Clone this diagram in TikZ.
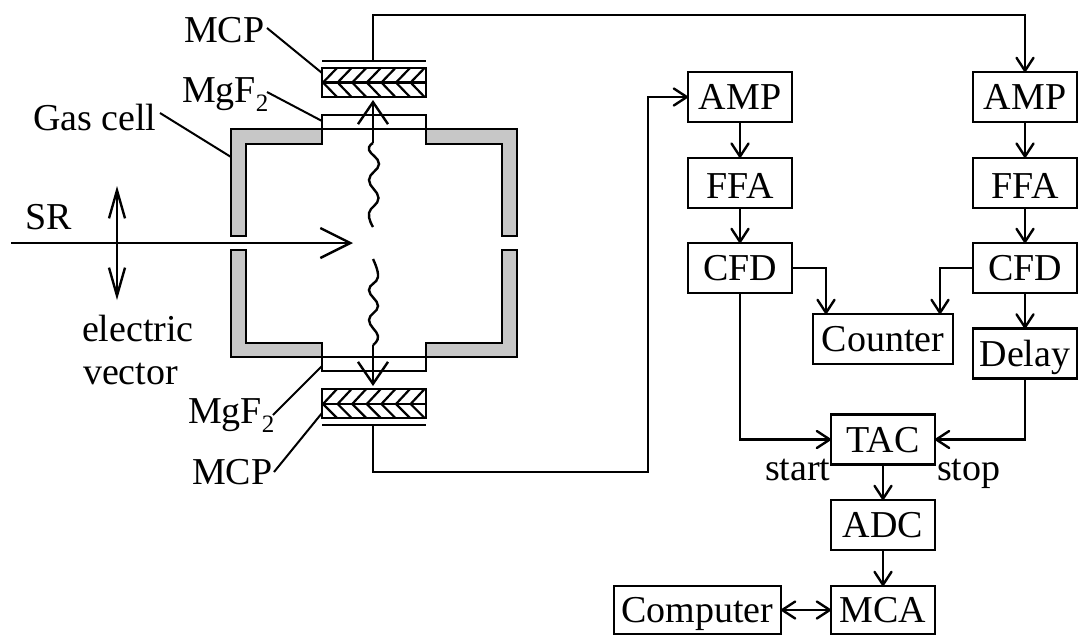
\documentclass[tikz,border=0pt]{standalone}
\usepackage{fontspec}
\setmainfont{Liberation Serif}
\usetikzlibrary{arrows.meta,positioning}
\tikzset{
  x=1pt,y=-1pt,
  stdtext/.style={font=\fontsize{38}{40}\selectfont,inner sep=0pt,outer sep=0pt},
  lbl/.style={stdtext,anchor=base west},
  box/.style={stdtext,draw=black,fill=white,minimum height=50pt,text height=25pt,text depth=0pt,anchor=center},
  wide/.style={box,minimum width=104pt},
  conn/.style={draw=black,-{Straight Barb[length=13pt,width=17pt,round]}},
  dconn/.style={draw=black,{Straight Barb[length=13pt,width=17pt,round]}-{Straight Barb[length=13pt,width=17pt,round]}},
  bigbeam/.style={draw=black,-{Straight Barb[length=30pt,width=30pt]}},
  vecarrow/.style={draw=black,{Straight Barb[length=28pt,width=16pt]}-{Straight Barb[length=28pt,width=16pt]}},
  photon/.style={draw=black,-{Straight Barb[length=22pt,width=30pt]}},
  wall/.style={draw=black,fill=black!22},
  thin leader/.style={draw=black,line width=2pt},
  mcpbox/.style={draw=black,fill=white},
}
\begin{document}
\begin{tikzpicture}[line width=2.4pt]
\useasboundingbox (0,0) rectangle (1078,635);
% gas cell walls
\draw[wall] (231,236)--(231,129)--(322,129)--(322,144)--(246,144)--(246,236)--cycle;
\draw[wall] (231,250)--(231,357)--(322,357)--(322,343)--(246,343)--(246,250)--cycle;
\draw[wall] (517,236)--(517,129)--(426,129)--(426,144)--(502,144)--(502,236)--cycle;
\draw[wall] (517,250)--(517,357)--(426,357)--(426,343)--(502,343)--(502,250)--cycle;
% windows
\draw (322,129)--(322,115)--(426,115)--(426,129)--cycle;
\draw (322,357)--(322,371)--(426,371)--(426,357)--cycle;
% MCP stacks
\foreach \yt/\ym/\yb in {68/82.5/97,389/404/418}{
  \draw[mcpbox] (322,\yt) rectangle (426,\yb);
  \begin{scope}
  \clip (322,\yt) rectangle (426,\yb);
  \foreach \xx in {323,337.6,352.2,366.8,381.4,396,410.6}{
    \draw[line width=2.2pt] (\xx+14,\yt)--(\xx,\ym)--(\xx+14,\yb);
  }
  \end{scope}
  \draw (322,\ym)--(426,\ym);
  \draw (322,\yt) rectangle (426,\yb);
}
% plates
\coordinate (topplate) at (373,61);
\coordinate (botplate) at (373,425);
\draw (322,61)--(426,61);
\draw (322,425)--(426,425);
% beam, vector
\coordinate (srs) at (11,243);
\coordinate (srt) at (353,243);
\coordinate (vt) at (117,186);
\coordinate (vb) at (117,300);
\draw[bigbeam] (srs)--(srt);
\draw[vecarrow] (vt)--(vb);
% photons
\coordinate (tipT) at (373,100);
\coordinate (tipB) at (373,386);
\coordinate (wT) at (373,143);
\coordinate (wB) at (373,345);
\draw[photon] (wT)--(tipT);
\draw[photon] (wB)--(tipB);
\draw plot[smooth,tension=0.75] coordinates {(373,143)(369,150)(379,164)(369,180)(378.5,198)(369,213)(373,227)};
\draw plot[smooth,tension=0.75] coordinates {(373,259)(378,277)(369,290)(378,306)(369,320)(378,336)(373,345)};
% labels
\node[lbl] (mcpa) at (184,42) {MCP};
\node[lbl] (mgfa) at (182,102) {MgF\raisebox{-9pt}{\fontsize{25}{25}\selectfont 2}};
\node[lbl] (gas) at (33,130) {Gas cell};
\node[lbl] (sr) at (25,229) {SR};
\node[lbl] (elec) at (82,341) {electric};
\node[lbl] (vec) at (83,384) {vector};
\node[lbl] (mgfb) at (188,423) {MgF\raisebox{-9pt}{\fontsize{25}{25}\selectfont 2}};
\node[lbl] (mcpb) at (192,484) {MCP};
\node[lbl] (start) at (765,480) {start};
\node[lbl] (stop) at (937,480) {stop};
% leaders
\coordinate (l1a) at (267,28); \coordinate (l1b) at (322,73);
\coordinate (l2a) at (267,92); \coordinate (l2b) at (322,121);
\coordinate (l3a) at (160,113); \coordinate (l3b) at (231,157);
\coordinate (l4a) at (273,415); \coordinate (l4b) at (322,366);
\coordinate (l5a) at (274,472); \coordinate (l5b) at (322,413);
\draw[thin leader] (l1a)--(l1b);
\draw[thin leader] (l2a)--(l2b);
\draw[thin leader] (l3a)--(l3b);
\draw[thin leader] (l4a)--(l4b);
\draw[thin leader] (l5a)--(l5b);
% electronics boxes
\node[wide] (ampL) at (740,97) {AMP};
\node[wide] (ffaL) at (740,182.7) {\raisebox{-3.5pt}{FFA}};
\node[wide] (cfdL) at (740,268) {CFD};
\node[wide] (ampR) at (1025,97) {AMP};
\node[wide] (ffaR) at (1025,182.7) {\raisebox{-3.5pt}{FFA}};
\node[wide] (cfdR) at (1025,268) {CFD};
\node[box,minimum width=140pt] (counter) at (883,339) {Counter};
\node[wide] (delay) at (1025,353.5) {Delay};
\node[wide] (tac) at (883,439.5) {TAC};
\node[wide] (adc) at (883,525) {ADC};
\node[wide,minimum height=48pt] (mca) at (883,610) {MCA};
\node[box,minimum width=167pt,minimum height=48pt] (comp) at (697.5,610) {Computer};
% connectors
\coordinate (cntL) at (826,314);
\coordinate (cntR) at (940,314);
\coordinate (up1) at (373,15);
\coordinate (dn1) at (373,472);
\coordinate (dn2) at (648,472);
\draw[conn] (topplate)--(up1)-|(ampR.north);
\draw[conn] (botplate)--(dn1)--(dn2)|-(ampL.west);
\draw[conn] (ampL)--(ffaL);
\draw[conn] (ffaL)--(cfdL);
\draw[conn] (ampR)--(ffaR);
\draw[conn] (ffaR)--(cfdR);
\draw[conn] (cfdL.east)-|(cntL);
\draw[conn] (cfdR.west)-|(cntR);
\draw[conn] (cfdR)--(delay);
\draw[conn] (cfdL.south)|-(tac.west);
\draw[conn] (delay.south)|-(tac.east);
\draw[conn] (tac)--(adc);
\draw[conn] (adc)--(mca);
\draw[dconn] (comp)--(mca);
\end{tikzpicture}
\end{document}
